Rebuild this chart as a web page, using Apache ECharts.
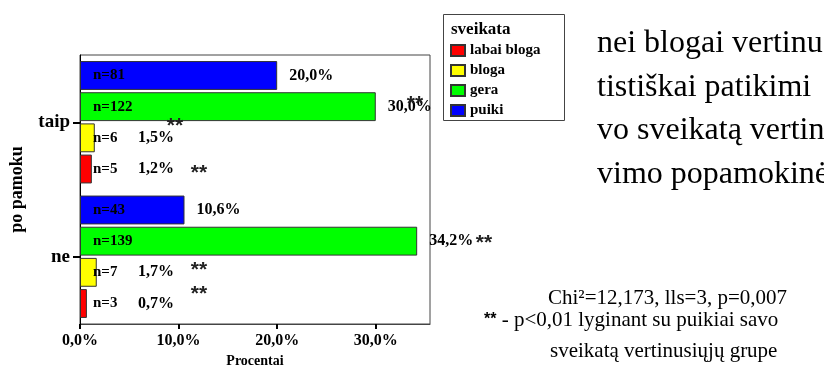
<!DOCTYPE html>
<html>
<head>
<meta charset="utf-8">
<script src="https://cdn.jsdelivr.net/npm/echarts@6/dist/echarts.min.js"></script>
<style>
html,body{margin:0;padding:0;background:#fff;}
#chart{width:824px;height:365px;}
</style>
</head>
<body>
<div id="chart"></div>
<script>
// ---- data ----
const categories = ['ne', 'taip'];
const seriesNames = ['labai bloga', 'bloga', 'gera', 'puiki'];
const labaiBlogaPct = [0.7, 1.2];
const blogaPct = [1.7, 1.5];
const geraPct = [34.2, 30.0];
const puikiPct = [10.6, 20.0];
const labaiBlogaN = [3, 5];
const blogaN = [7, 6];
const geraN = [139, 122];
const puikiN = [43, 81];
const xTickValues = [0, 10, 20, 30];
const bodyLines = ['nei blogai vertinu', 'tistiškai patikimi', 'vo sveikatą vertin', 'vimo popamokinė'];
const noteChi = 'Chi²=12,173, lls=3, p=0,007';
const noteStar = ' - p<0,01 lyginant su puikiai savo';
const noteGroup = 'sveikatą vertinusiųjų grupe';

// ---- styles ----
const pctValues = [labaiBlogaPct, blogaPct, geraPct, puikiPct];
const nValues = [labaiBlogaN, blogaN, geraN, puikiN];
const colors = ['#ff0000', '#ffff00', '#00ff00', '#0000ff'];
const SERIF = '"Liberation Serif", "Times New Roman", serif';
const SANS = '"Liberation Sans", Arial, sans-serif';
const fmt = v => v.toFixed(1).replace('.', ',') + '%';
const lbl = {fontFamily: SERIF, fontWeight: 'bold', fontSize: 15, color: '#000'};
const lblBig = Object.assign({}, lbl, {fontSize: 16});

// horizontal bars: first series is drawn on top, so add them in reverse (puiki first)
const order = [3, 2, 1, 0];
const series = [];
order.forEach(i => {
  series.push({
    name: seriesNames[i], type: 'bar', yAxisIndex: 0,
    data: pctValues[i],
    barCategoryGap: '9%', barGap: '8%',
    itemStyle: {color: colors[i], borderColor: '#333', borderWidth: 1},
    label: {
      show: true, position: 'insideLeft', distance: 13,
      formatter: p => {
        const n = nValues[i][p.dataIndex];
        if (p.value >= 5) return '{n|n=' + n + '}';
        return '{n|n=' + n + '}{p|' + fmt(p.value) + '}';
      },
      rich: {n: Object.assign({width: 45}, lbl), p: Object.assign({}, lblBig)}
    },
    emphasis: {disabled: true}
  });
});
order.forEach(i => {
  series.push({
    name: seriesNames[i] + ' %', type: 'bar', yAxisIndex: 1,
    data: pctValues[i],
    barCategoryGap: '9%', barGap: '8%',
    itemStyle: {color: 'rgba(0,0,0,0)'},
    label: Object.assign({
      show: true, position: 'right', distance: 12,
      formatter: p => (p.value >= 5 ? fmt(p.value) : '')
    }, lblBig),
    emphasis: {disabled: true}, silent: true
  });
});

// annotation layout (pixel positions of significance marks)
const starMarks = [[415, 104], [175, 126], [199, 173], [484, 243], [199, 270], [199, 294]];
const graphics = [];
starMarks.forEach(s => graphics.push({type: 'text', z: 100, style: {x: s[0], y: s[1], text: '**', align: 'center', verticalAlign: 'middle', font: 'bold 21px ' + SANS, fill: '#222'}}));
// legend box + title
graphics.push({type: 'rect', shape: {x: 443.5, y: 14.5, width: 121, height: 106}, style: {fill: 'none', stroke: '#444', lineWidth: 1}});
graphics.push({type: 'text', style: {x: 451, y: 30, text: 'sveikata', verticalAlign: 'middle', font: 'bold 17px ' + SERIF, fill: '#000'}});
// body text
const bodyY = [44, 88, 131, 175];
bodyLines.forEach((t, k) => graphics.push({type: 'text', style: {x: 597, y: bodyY[k], text: t, verticalAlign: 'middle', font: '32px ' + SERIF, fill: '#000'}}));
graphics.push({type: 'text', style: {x: 548, y: 298, text: noteChi, verticalAlign: 'middle', font: '21px ' + SERIF, fill: '#000'}});
graphics.push({type: 'text', style: {x: 484, y: 320, text: '{s|**}{t|' + noteStar + '}', verticalAlign: 'middle', rich: {s: {font: 'bold 16px ' + SANS, fill: '#000'}, t: {font: '21px ' + SERIF, fill: '#000'}}}});
graphics.push({type: 'text', style: {x: 550, y: 351, text: noteGroup, verticalAlign: 'middle', font: '21px ' + SERIF, fill: '#000'}});

const option = {
  animation: false,
  backgroundColor: '#fff',
  grid: {left: 80, right: 394, top: 55, bottom: 41, containLabel: false, outerBoundsMode: 'none', show: true, borderColor: '#444', borderWidth: 1, backgroundColor: 'rgba(0,0,0,0)'},
  legend: {
    data: seriesNames, orient: 'vertical', left: 450, top: 43, icon: 'rect',
    itemWidth: 14, itemHeight: 11, itemGap: 5, padding: 0, selectedMode: false,
    textStyle: Object.assign({}, lbl, {fontSize: 15, lineHeight: 14})
  },
  xAxis: {
    type: 'value', min: 0, max: 35.5, interval: 10,
    splitLine: {show: false},
    axisLine: {show: true, lineStyle: {color: '#444', width: 1}},
    axisTick: {show: true, length: 5, customValues: xTickValues, lineStyle: {color: '#000', width: 2}},
    axisLabel: Object.assign({customValues: xTickValues, formatter: v => fmt(v), margin: 9}, lblBig),
    name: 'Procentai', nameLocation: 'middle', nameGap: 24,
    nameTextStyle: Object.assign({}, lbl, {fontSize: 14})
  },
  yAxis: [{
    type: 'category', data: categories,
    axisLine: {show: true, lineStyle: {color: '#000', width: 1}},
    axisTick: {show: true, alignWithLabel: true, length: 7, lineStyle: {color: '#000', width: 2}},
    axisLabel: Object.assign({margin: 10}, lbl, {fontSize: 19}),
    name: 'po pamoku', nameLocation: 'middle', nameGap: 54, nameRotate: 90,
    nameTextStyle: Object.assign({}, lbl, {fontSize: 18})
  }, {
    type: 'category', data: categories, show: false
  }],
  series: series,
  graphic: graphics
};

const chart = echarts.init(document.getElementById('chart'), null, {renderer: 'canvas'});
chart.setOption(option);
</script>
</body>
</html>
